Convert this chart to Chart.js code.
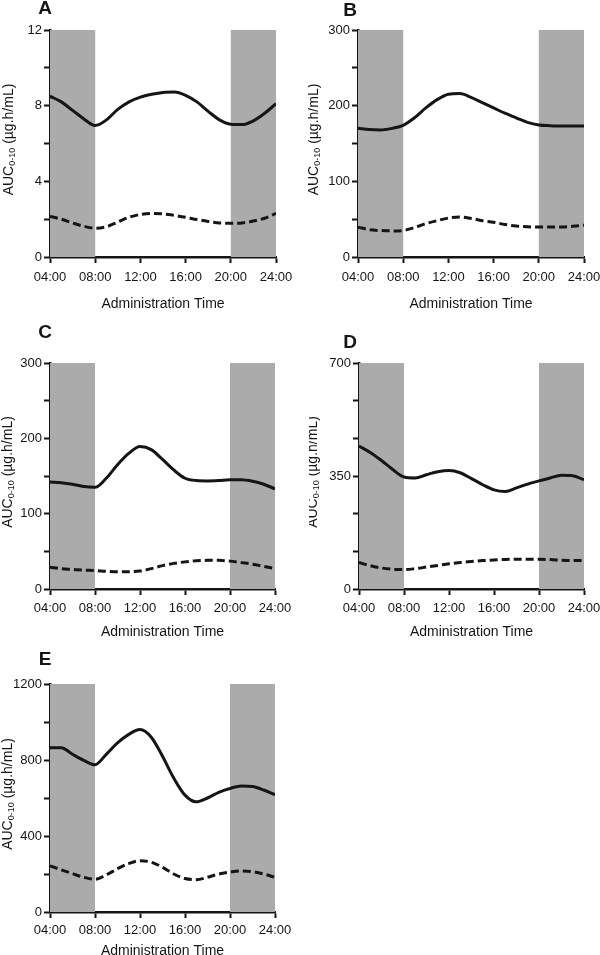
<!DOCTYPE html>
<html>
<head>
<meta charset="utf-8">
<script src="https://cdn.jsdelivr.net/npm/chart.js@4.4.1/dist/chart.umd.min.js"></script>
<style>
body{margin:0;background:#fff;width:600px;height:955px;position:relative;overflow:hidden}
canvas{position:absolute}
</style>
</head>
<body>
<canvas id="cA"></canvas>
<canvas id="cB"></canvas>
<canvas id="cC"></canvas>
<canvas id="cD"></canvas>
<canvas id="cE"></canvas>
<script>
// administration times (hours)
var hours = [4,5,6,7,8,9,10,11,12,13,14,15,16,17,18,19,20,21,22,23,24];
var xTicks = [4,8,12,16,20,24];
var xLabels = ['04:00','08:00','12:00','16:00','20:00','24:00'];
var nightBands = [[4,8],[20,24]];

// A
var solidA  = [8.5,8.2,7.75,7.3,6.95,7.25,7.8,8.2,8.45,8.6,8.7,8.72,8.55,8.2,7.7,7.25,7.02,7.0,7.2,7.6,8.1];
var dashedA = [2.15,2.0,1.8,1.62,1.52,1.6,1.85,2.1,2.25,2.3,2.28,2.2,2.1,1.98,1.88,1.8,1.78,1.8,1.9,2.05,2.3];
var yTicksA = [0,2,4,6,8,10,12];
var yLabelsA = [0,4,8,12];

// B
var solidB  = [170,168.5,168,170,174,184,197,208,215,216,211,204,197,190,184,178,174.5,173.5,173,173,173];
var dashedB = [39.5,36,35,34.5,35,39,44,48,51.5,53,51,48,46,43,41,40,39.5,39.5,39.5,40.5,42];
var yTicksB = [0,50,100,150,200,250,300];
var yLabelsB = [0,100,200,300];

// C
var solidC  = [142,141,139,136,135,147,165,180,189,185,172,158,147,144,143.5,144,145,145,143,139,133];
var dashedC = [29,27,26,25,24.5,23.5,23,23,24,27,31,34,36,37.5,38,38,37,35,33,30,27];
var yTicksC = [0,50,100,150,200,250,300];
var yLabelsC = [0,100,200,300];

// D
var solidD  = [443,423,398,370,347,344,354,363,367,360,342,323,307,302,313,325,335,344,352,351,338];
var dashedD = [82,72,65,61,60,63,68,73,78,82,85,88,90,91.5,92,92,92,91,89,88,88.5];
var yTicksD = [0,116.67,233.33,350,466.67,583.33,700];
var yLabelsD = [0,350,700];

// E
var solidE  = [865,865,830,798,775,830,890,935,960,920,820,705,615,580,600,630,650,663,660,642,618];
var dashedE = [243,222,202,183,172,195,228,255,270,262,235,200,176,170,183,200,210,216,212,200,182];
var yTicksE = [0,200,400,600,800,1000,1200];
var yLabelsE = [0,400,800,1200];

var FONT = "'Liberation Sans', Arial, Helvetica, sans-serif";
var INK = '#151515';

function pts(arr){
	var out = [];
	for(var i=0;i<hours.length;i++) out.push({x:hours[i], y:arr[i]});
	return out;
}

var decor = {
	id:'decor',
	beforeDatasetsDraw:function(chart){
		var ctx = chart.ctx, x = chart.scales.x, a = chart.chartArea;
		ctx.save();
		ctx.fillStyle = '#ababab';
		nightBands.forEach(function(b){
			var x0 = x.getPixelForValue(b[0]), x1 = x.getPixelForValue(b[1]);
			ctx.fillRect(x0, a.top, x1-x0, a.bottom-a.top);
		});
		ctx.restore();
	},
	afterDraw:function(chart){
		var o = chart.options.plugins.decor, ctx = chart.ctx, a = chart.chartArea;
		ctx.save();
		ctx.fillStyle = INK;
		// panel letter
		ctx.font = 'bold 19px ' + FONT;
		ctx.textAlign = 'center';
		ctx.textBaseline = 'middle';
		ctx.fillText(o.letter, a.left + o.lx, a.top + o.ly);
		// y axis title with subscript
		var big = '14px ' + FONT, small = '9px ' + FONT;
		ctx.font = big; var w1 = ctx.measureText('AUC').width;
		var w3 = ctx.measureText(' (\u00b5g.h/mL)').width;
		ctx.font = small; var w2 = ctx.measureText('0-10').width;
		var total = w1 + w2 + w3;
		ctx.translate(a.left + o.tx, (a.top + a.bottom)/2 - 4);
		ctx.rotate(-Math.PI/2);
		ctx.textAlign = 'left';
		ctx.textBaseline = 'middle';
		var s = -total/2;
		ctx.font = big; ctx.fillText('AUC', s, 0);
		ctx.font = small; ctx.fillText('0-10', s + w1, 4);
		ctx.font = big; ctx.fillText(' (\u00b5g.h/mL)', s + w1 + w2, 0);
		ctx.restore();
	}
};

function panel(id, letter, plotLeft, plotTop, plotW, plotH, solid, dashed, yTicks, yLabels, p){
	var cv = document.getElementById(id);
	var H = 45 + plotH + 60;
	cv.width = 300; cv.height = H;
	cv.style.left = (plotLeft - 50) + 'px';
	cv.style.top = (plotTop - 45) + 'px';
	new Chart(cv, {
		type:'line',
		data:{
			datasets:[
				{data:pts(solid), borderColor:INK, borderWidth:3, pointRadius:0, cubicInterpolationMode:'monotone', fill:false},
				{data:pts(dashed), borderColor:INK, borderWidth:3, borderDash:[8,4], pointRadius:0, cubicInterpolationMode:'monotone', fill:false}
			]
		},
		options:{
			responsive:false,
			animation:false,
			layout:{padding:{top:45, left:0, bottom:0, right:300-50-plotW}},
			plugins:{
				legend:{display:false},
				tooltip:{enabled:false},
				decor:{letter:letter, lx:p.lx, ly:p.ly, tx:p.tx}
			},
			scales:{
				x:{
					type:'linear', min:4, max:24,
					afterBuildTicks:function(s){ s.ticks = xTicks.map(function(v){return {value:v};}); },
					afterFit:function(s){ s.height = 60; },
					grid:{drawOnChartArea:false, drawTicks:true, tickLength:6, tickWidth:2, tickColor:INK},
					border:{display:true, color:INK, width:2.5},
					ticks:{
						color:INK, padding:p.xpad, maxRotation:0, autoSkip:false,
						font:{family:FONT, size:13},
						callback:function(v){ var i = xTicks.indexOf(v); return i < 0 ? '' : xLabels[i]; }
					},
					title:{display:true, text:'Administration Time', color:INK, font:{family:FONT, size:14}, padding:{top:0, bottom:p.tpad}}
				},
				y:{
					min:yTicks[0], max:yTicks[yTicks.length-1],
					afterBuildTicks:function(s){ s.ticks = yTicks.map(function(v){return {value:v};}); },
					afterFit:function(s){ s.width = 50; },
					grid:{drawOnChartArea:false, drawTicks:true, tickLength:6, tickWidth:2, tickColor:INK},
					border:{display:true, color:INK, width:2.5},
					ticks:{
						color:INK, padding:2,
						font:{family:FONT, size:13},
						callback:function(v){ return yLabels.indexOf(v) < 0 ? '' : String(v); }
					}
				}
			}
		},
		plugins:[decor]
	});
}

panel('cA','A', 50, 30, 226, 227, solidA, dashedA, yTicksA, yLabelsA, {lx:-5, ly:-21, tx:-41, xpad:7, tpad:4.6});
panel('cB','B', 358, 30, 226, 227, solidB, dashedB, yTicksB, yLabelsB, {lx:-8, ly:-19, tx:-44, xpad:7, tpad:4.6});
panel('cC','C', 50, 363, 225, 226, solidC, dashedC, yTicksC, yLabelsC, {lx:-5, ly:-30, tx:-42, xpad:6, tpad:8.6});
panel('cD','D', 359, 363, 225, 226, solidD, dashedD, yTicksD, yLabelsD, {lx:-9, ly:-20, tx:-46, xpad:6, tpad:8.6});
panel('cE','E', 50, 684, 225, 228, solidE, dashedE, yTicksE, yLabelsE, {lx:-5, ly:-24, tx:-42, xpad:5, tpad:12.6});
</script>
</body>
</html>
